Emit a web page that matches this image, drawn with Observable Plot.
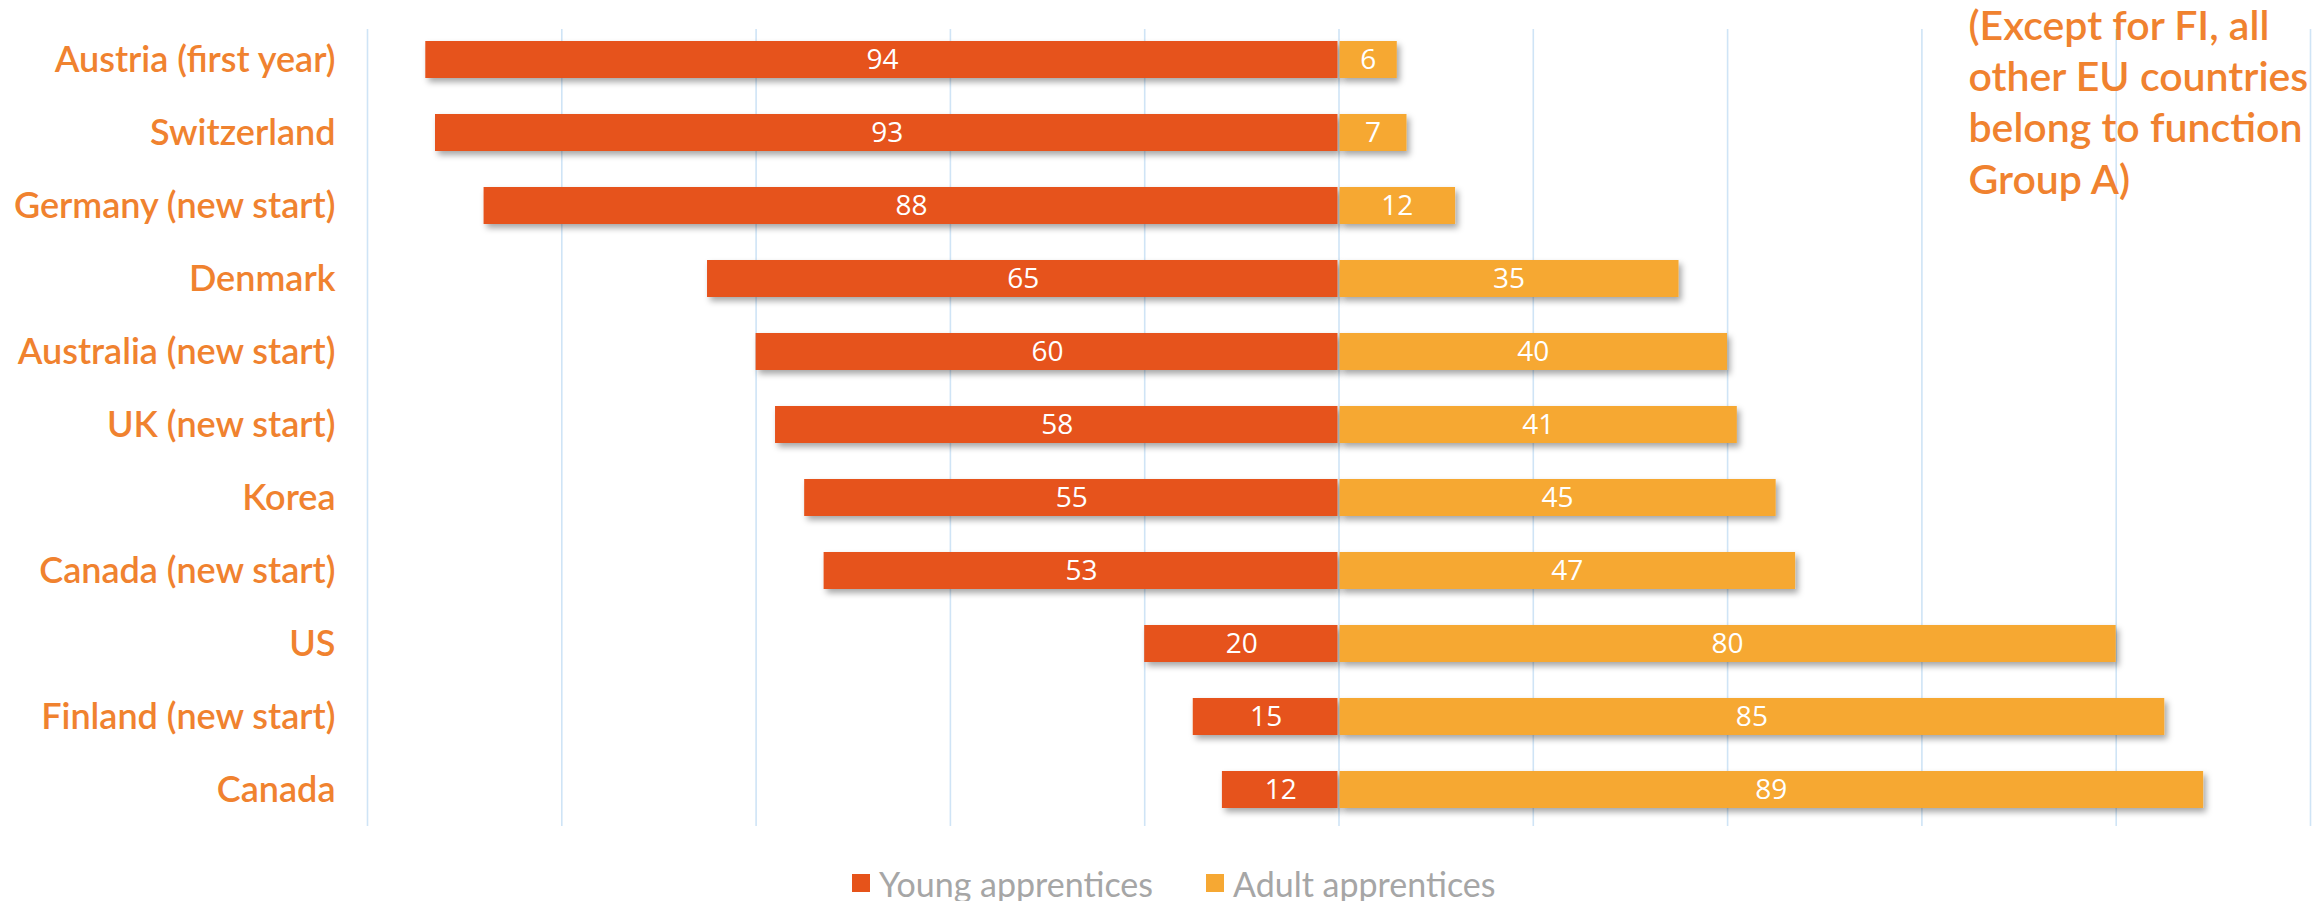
<!DOCTYPE html>
<html>
<head>
<meta charset="utf-8">
<script src="https://cdn.jsdelivr.net/npm/d3@7"></script>
<script src="https://cdn.jsdelivr.net/npm/@observablehq/plot@0.6"></script>
<style>
  body { margin: 0; background: #fff; }
  #chart svg { display: block; }
  #legend { display: flex; align-items: center; padding-left: 852px; height: 38px; margin-top: 14px;
            font-family: Lato, sans-serif; font-size: 34px; color: #a6a6a6; }
  #legend .sw { width: 18px; height: 18px; margin-right: 9px; }
  #legend .item { display: flex; align-items: center; margin-right: 53px; }
</style>
</head>
<body>
<div id="chart"></div>
<div id="legend"></div>
<script>
const countries = ["Austria (first year)", "Switzerland", "Germany (new start)", "Denmark", "Australia (new start)", "UK (new start)", "Korea", "Canada (new start)", "US", "Finland (new start)", "Canada"];
const young = [94, 93, 88, 65, 60, 58, 55, 53, 20, 15, 12];
const adult = [6, 7, 12, 35, 40, 41, 45, 47, 80, 85, 89];
const seriesNames = ["Young apprentices", "Adult apprentices"];
const seriesColors = ["#E6531A", "#F6A833"];
const gridTicks = [-100, -80, -60, -40, -20, 0, 20, 40, 60, 80, 100];
const note = "(Except for FI, all\nother EU countries\nbelong to function\nGroup A)";

const rows = countries.map((c, i) => ({country: c, young: young[i], adult: adult[i]}));
const orange = "#F0822F";

const plot = Plot.plot({
  width: 2312,
  height: 850,
  marginLeft: 367,
  marginRight: 2,
  marginTop: 22,
  marginBottom: 24,
  x: {domain: [-100, 100], axis: null},
  y: {domain: countries, paddingInner: 0.5, paddingOuter: 0.25, label: null, axis: null},
  style: {background: "#fff", color: orange, fontFamily: "Lato, sans-serif"},
  marks: [
    Plot.gridX(gridTicks, {stroke: "#cfe4f6", strokeOpacity: 1, strokeWidth: 1.6, insetTop: 7}),
    Plot.barX(rows, {y: "country", x1: d => -d.young, x2: 0, fill: seriesColors[0], insetRight: 1}),
    Plot.barX(rows, {y: "country", x1: 0, x2: "adult", fill: seriesColors[1], insetLeft: 1}),
    Plot.text(rows, {y: "country", x: d => -d.young / 2, text: d => String(d.young), fill: "white", fontSize: 28, fontFamily: "Open Sans"}),
    Plot.text(rows, {y: "country", x: d => d.adult / 2, text: d => String(d.adult), fill: "white", fontSize: 28, fontFamily: "Open Sans"}),
    Plot.axisY({tickSize: 0, tickPadding: 32, fontSize: 36, fontWeight: 600, fill: orange, label: null}),
    Plot.text([note], {frameAnchor: "top-right", textAnchor: "start", lineAnchor: "top", dx: -342, dy: -19, fontSize: 41, fontWeight: 600, lineHeight: 1.25, fill: orange})
  ]
});

const svg = d3.select(plot);
svg.insert("defs", ":first-child").html(
  '<filter id="sh" x="-5%" y="-20%" width="112%" height="150%">' +
  '<feDropShadow dx="3" dy="4" stdDeviation="3" flood-color="#000" flood-opacity="0.35"/></filter>');
svg.selectAll("g[aria-label='bar']").attr("filter", "url(#sh)");

document.getElementById("chart").appendChild(plot);

const legend = d3.select("#legend");
seriesNames.forEach((name, i) => {
  const item = legend.append("div").attr("class", "item");
  item.append("div").attr("class", "sw").style("background", seriesColors[i]);
  item.append("span").text(name);
});
</script>
</body>
</html>
